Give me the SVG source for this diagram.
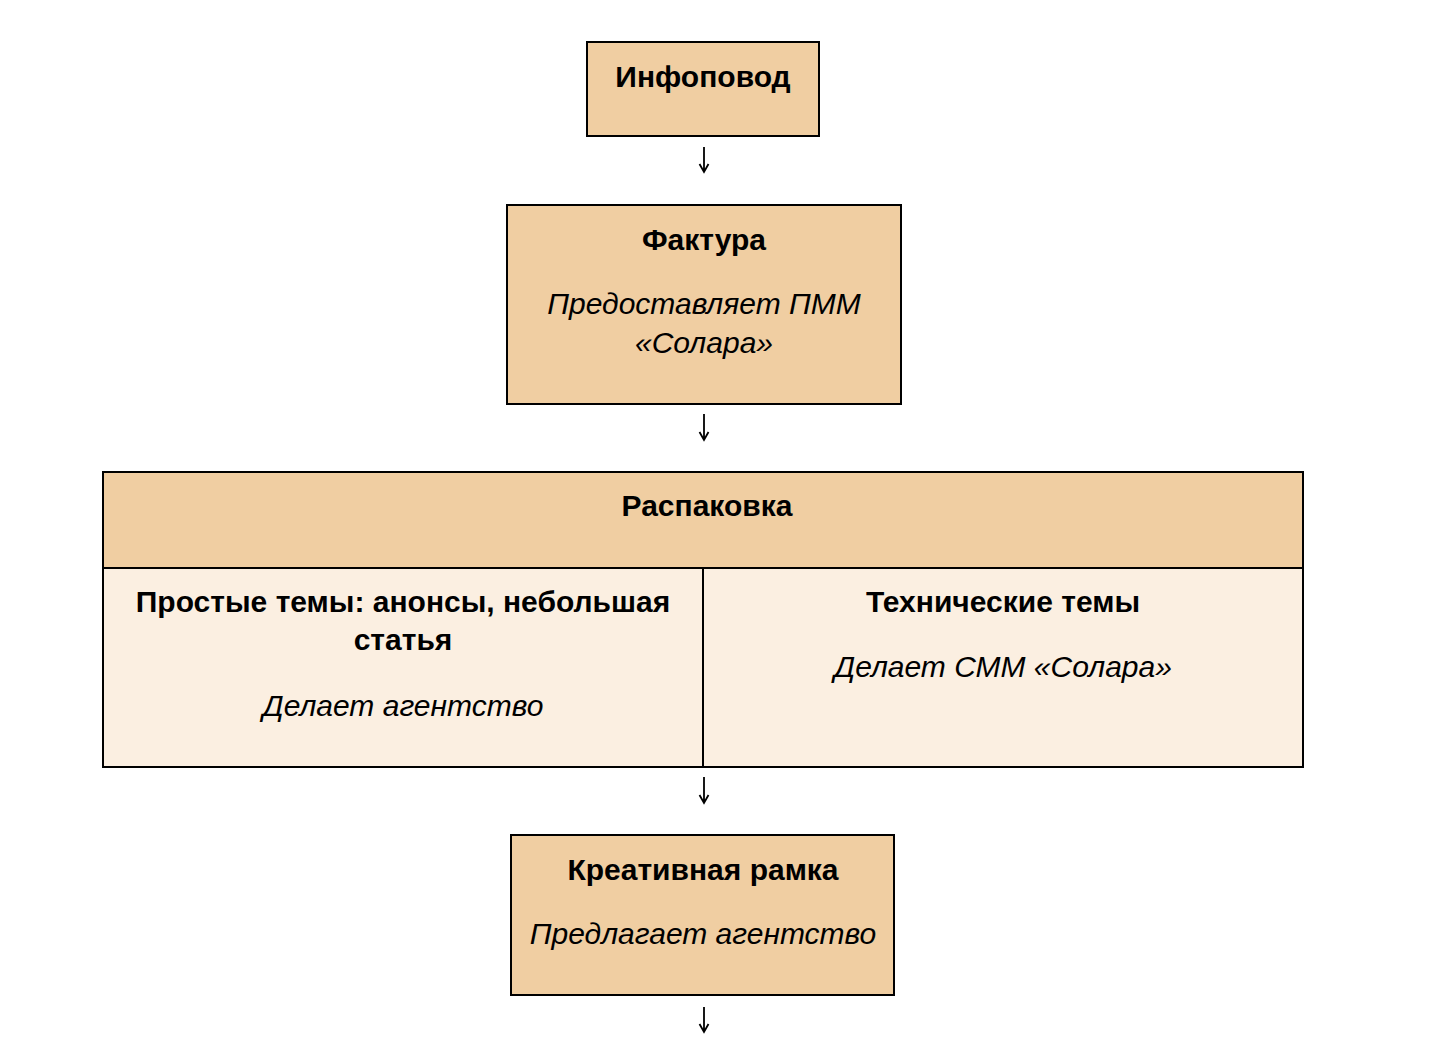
<svg xmlns="http://www.w3.org/2000/svg" width="1454" height="1054" viewBox="0 0 1454 1054">
<style>
.box{fill:#f0cea2;stroke:#000;stroke-width:2}
.cell{fill:#fbefe1;stroke:#000;stroke-width:2}
.t{font-family:"Liberation Sans",Arial,sans-serif;font-size:30px;fill:#000;text-anchor:middle}
.b{font-weight:bold}
.i{font-style:italic}
.arr{fill:none;stroke:#000;stroke-width:1.8;stroke-linecap:butt}
</style>
<rect width="1454" height="1054" fill="#fff"/>
<g id="node-infopovod">
<rect class="box" x="587" y="42" width="232" height="94"/>
<text class="t b" x="703" y="87">Инфоповод</text>
</g>
<g id="node-faktura">
<rect class="box" x="507" y="205" width="394" height="199"/>
<text class="t b" x="704" y="250">Фактура</text>
<text class="t i" x="704" y="314">Предоставляет ПММ</text>
<text class="t i" x="704" y="353">«Солара»</text>
</g>
<g id="node-raspakovka">
<rect class="box" x="103" y="472" width="1200" height="96"/>
<rect class="cell" x="103" y="568" width="600" height="199"/>
<rect class="cell" x="703" y="568" width="600" height="199"/>
<text class="t b" x="707" y="516">Распаковка</text>
<text class="t b" x="403" y="612">Простые темы: анонсы, небольшая</text>
<text class="t b" x="403" y="650">статья</text>
<text class="t i" x="403" y="716">Делает агентство</text>
<text class="t b" x="1003" y="612">Технические темы</text>
<text class="t i" x="1003" y="677">Делает СММ «Солара»</text>
</g>
<g id="node-kreativ">
<rect class="box" x="511" y="835" width="383" height="160"/>
<text class="t b" x="703" y="880">Креативная рамка</text>
<text class="t i" x="703" y="944">Предлагает агентство</text>
</g>
<g id="connectors">
<path class="arr" d="M704 147V172M699.5 164L704 172L708.5 164"/>
<path class="arr" d="M704 414V440M699.5 432L704 440L708.5 432"/>
<path class="arr" d="M704 777V803M699.5 795L704 803L708.5 795"/>
<path class="arr" d="M704 1007V1032M699.5 1024L704 1032L708.5 1024"/>
</g>
</svg>
